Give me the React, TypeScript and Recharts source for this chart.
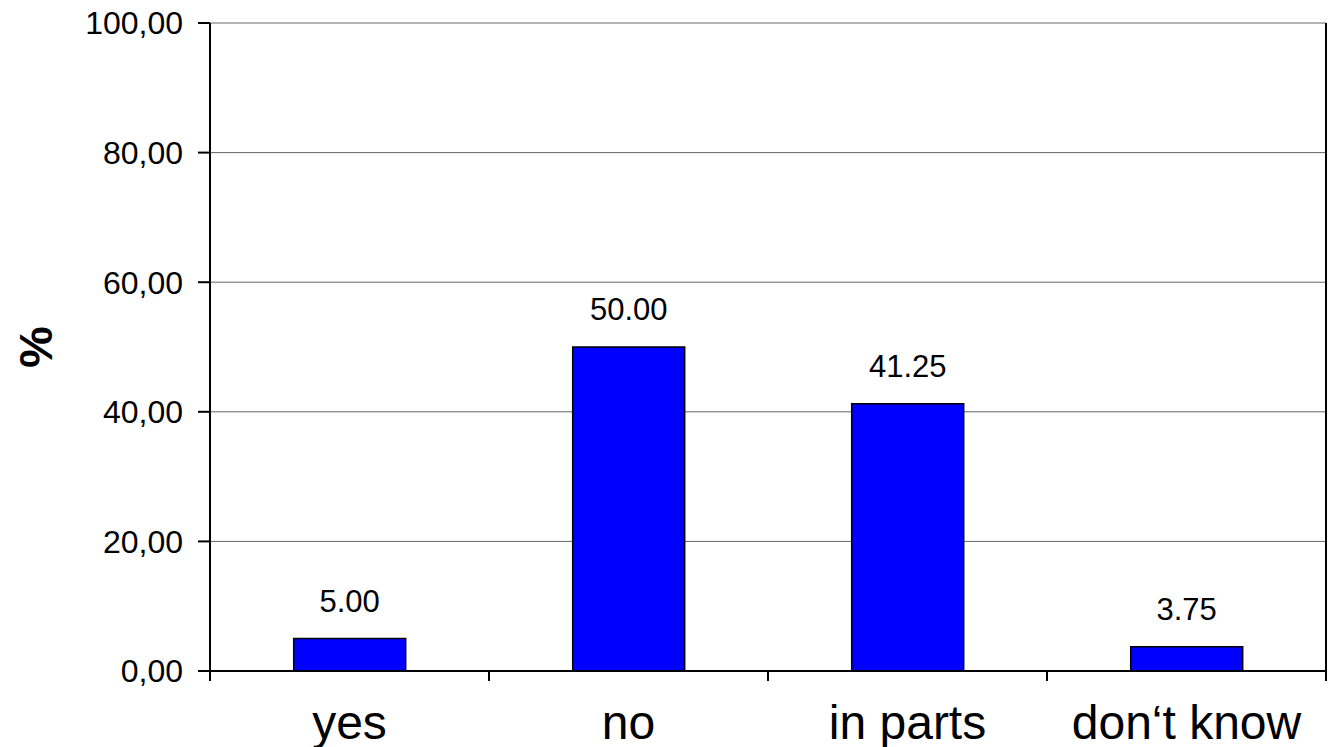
import { Bar, BarChart, CartesianGrid, Label, LabelList, XAxis, YAxis } from 'recharts';

// survey answers, shares in percent
const categories = ['yes', 'no', 'in parts', 'don‘t know'];
const shares = [5.0, 50.0, 41.25, 3.75];
const yTicks = [0, 20, 40, 60, 80, 100];

const data = categories.map((name, i) => ({ name, value: shares[i] }));

const FONT = '"Liberation Sans", Arial, sans-serif';

const PercentLabel = ({ viewBox }: any) => {
  const cx = viewBox.x + 35;
  const cy = viewBox.y + viewBox.height / 2;
  return (
    <text
      x={cx}
      y={cy}
      transform={`rotate(-90, ${cx}, ${cy})`}
      textAnchor="middle"
      dominantBaseline="central"
      fontSize={47}
      fontWeight="bold"
      fontFamily={FONT}
      fill="#000"
    >
      %
    </text>
  );
};

// category label plus the tick marks on the category boundaries (excel style)
const CategoryTick = ({ x, y, width, visibleTicksCount, index, payload }: any) => {
  const half = width / visibleTicksCount / 2;
  const last = index === visibleTicksCount - 1;
  return (
    <g>
      <line x1={x - half} x2={x - half} y1={y} y2={y + 10} stroke="#000" strokeWidth={2} />
      {last && <line x1={x + half} x2={x + half} y1={y} y2={y + 10} stroke="#000" strokeWidth={2} />}
      <text x={x} y={y + 68} textAnchor="middle" fontSize={48} fontFamily={FONT} fill="#000">
        {payload.value}
      </text>
    </g>
  );
};

export default function App() {
  return (
    <div style={{ position: 'absolute', left: 0, top: 0, width: 1328, height: 747, background: '#fff' }}>
      <BarChart
        width={1328}
        height={747}
        data={data}
        margin={{ top: 23, right: 0, bottom: 0, left: 0 }}
        barCategoryGap="30%"
        style={{ fontFamily: FONT }}
      >
        <CartesianGrid vertical={false} stroke="#666" strokeWidth={1} />
        <XAxis
          dataKey="name"
          height={76}
          axisLine={{ stroke: '#000', strokeWidth: 2 }}
          tickLine={false}
          tickSize={0}
          tickMargin={0}
          interval={0}
          tick={<CategoryTick />}
        />
        <YAxis
          domain={[0, 100]}
          ticks={yTicks}
          width={210}
          tickSize={12}
          tickMargin={15}
          tickFormatter={(v: number) => v.toFixed(2).replace('.', ',')}
          tick={{ fill: '#000', fontSize: 32, fontFamily: FONT }}
          axisLine={{ stroke: '#000', strokeWidth: 2 }}
          tickLine={{ stroke: '#000', strokeWidth: 2 }}
        >
          <Label content={<PercentLabel />} />
        </YAxis>
        <YAxis
          yAxisId="right"
          orientation="right"
          domain={[0, 100]}
          allowDataOverflow
          width={2}
          tick={false}
          tickLine={false}
          axisLine={{ stroke: '#000', strokeWidth: 2 }}
        />
        <Bar dataKey="value" fill="#0000FF" stroke="#000" strokeWidth={1.5} isAnimationActive={false}>
          <LabelList
            dataKey="value"
            position="top"
            offset={27}
            formatter={(v: any) => Number(v).toFixed(2)}
            style={{ fill: '#000', fontSize: 31, fontFamily: FONT }}
          />
        </Bar>
      </BarChart>
    </div>
  );
}
